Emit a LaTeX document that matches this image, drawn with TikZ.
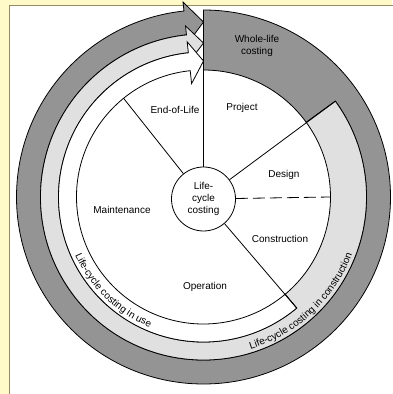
\documentclass[tikz,border=0pt]{standalone}
\usepackage{fontspec}
\setmainfont{Liberation Sans}
\usetikzlibrary{decorations.text}

\definecolor{fondjaune}{RGB}{255,250,200}
\definecolor{cadre}{RGB}{150,140,100}
\definecolor{grisfonce}{gray}{0.58}
\definecolor{grisclair}{gray}{0.88}

\begin{document}
\begin{tikzpicture}[x=1pt, y=1pt,
    bande/.style={draw=black, line width=0.8pt},
    trait/.style={draw=black, line width=0.8pt}]

    % Fond
    \useasboundingbox (0,0) rectangle (392,394);
    \fill[fondjaune] (0,0) rectangle (392,394);
    \filldraw[fill=white, draw=cadre, line width=0.8pt] (9.5,-5) rectangle (400,388.5);

    \begin{scope}[shift={(203.5,197)}]

    % Bande exterieure (whole-life costing)
    \filldraw[bande, fill=grisfonce]
      (90:187) arc[start angle=90, end angle=-264, radius=187]
      -- (-264:196) -- (90:175) -- (-264:154) -- (-264:163)
      arc[start angle=-264, end angle=36, radius=163]
      -- (36:127) arc[start angle=36, end angle=90, radius=127] -- cycle;

    % Bande du milieu (construction)
    \filldraw[bande, fill=grisclair]
      (36:163) arc[start angle=36, end angle=-264, radius=163]
      -- (-264:172) -- (90:154) -- (-264:136) -- (-264:145)
      arc[start angle=-264, end angle=-50, radius=145]
      -- (-50:127) arc[start angle=-50, end angle=36, radius=127] -- cycle;

    % Bande interieure (in use)
    \filldraw[bande, fill=white]
      (-50:145) arc[start angle=-50, end angle=-264, radius=145]
      -- (-264:156) -- (90:136) -- (-264:114) -- (-264:127)
      arc[start angle=-264, end angle=-50, radius=127] -- cycle;

    % Textes sur les bandes
    \path[decorate, decoration={text along path, text align=center,
        text={Life-cycle costing in use}}]
      (195:141) arc[start angle=195, end angle=257, radius=141];
    \path[decorate, decoration={text along path, text align=center,
        text={Life-cycle costing in construction}}]
      (-80:159.5) arc[start angle=-80, end angle=-14, radius=159.5];

    % Noeuds
    \coordinate (haut) at (90:187);
    \coordinate (finvie) at (129:127);
    \coordinate (projet) at (36:163);
    \coordinate (conception) at (0:127);
    \coordinate (exploit) at (-50:145);
    \node[draw, circle, fill=white, line width=0.8pt, minimum size=64pt,
          inner sep=0pt, align=center] (lcc) at (0,-2) {Life-\\cycle\\costing};

    % Traits radiaux
    \draw[trait] (lcc) -- (haut);
    \draw[trait] (lcc) -- (finvie);
    \draw[trait] (lcc) -- (projet);
    \draw[trait, dash pattern=on 12pt off 5pt] (lcc) -- (conception);
    \draw[trait] (lcc) -- (exploit);

    % Etiquettes
    \node (eol) at (-28.5,87) {End-of-Life};
    \node (proj) at (38.5,89) {Project};
    \node (dsgn) at (80.5,22) {Design};
    \node (cons) at (76.5,-42) {Construction};
    \node (oper) at (1.5,-90) {Operation};
    \node (maint) at (-81.5,-13) {Maintenance};
    \node[align=center] (wlc) at (53.5,151) {Whole-life\\costing};

    \end{scope}

\end{tikzpicture}
\end{document}
